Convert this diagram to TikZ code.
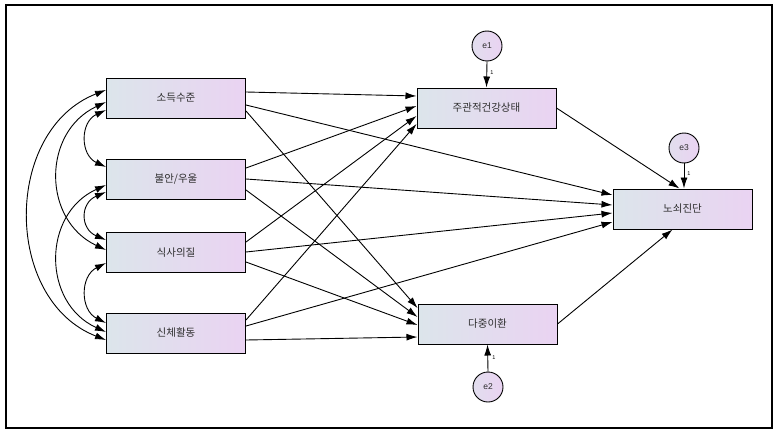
\documentclass[tikz,border=0pt]{standalone}
\usepackage{fontspec}
\setmainfont{Liberation Sans}
\newfontfamily\kr{Noto Sans CJK KR}
\usetikzlibrary{arrows.meta,calc}
\definecolor{boxL}{HTML}{DCE5EB}
\definecolor{boxR}{HTML}{EAD3F2}
\definecolor{txt}{HTML}{2E2E2E}
\begin{document}
\begin{tikzpicture}[x=1pt,y=-1pt,
  varbox/.style={draw=black,line width=1pt,minimum width=139pt,minimum height=40pt,
    left color=boxL,right color=boxR,inner sep=0pt,font=\kr\fontsize{10.5}{12}\selectfont,text=txt},
  errc/.style={draw=black,line width=0.9pt,circle,minimum size=30pt,inner sep=0pt,
    left color=boxL!60!boxR,right color=boxR,font=\fontsize{8.5}{9}\selectfont,text=txt},
  path/.style={line width=0.9pt,-{Latex[length=11pt,width=7pt]}},
  cov/.style={line width=0.9pt,{Latex[length=11pt,width=7pt]}-{Latex[length=11pt,width=7pt]}},
  one/.style={font=\fontsize{5.5}{6}\selectfont,inner sep=0pt}]
\useasboundingbox (0,0) rectangle (784,436);
\fill[white] (0,0) rectangle (784,436);
\draw[line width=2pt] (6,5) rectangle (772,428);
% observed variables
\node[varbox] (b1) at (176,98) {소득수준};
\node[varbox] (b2) at (176,179) {불안/우울};
\node[varbox] (b3) at (176,252.5) {식사의질};
\node[varbox] (b4) at (176,333) {신체활동};
\node[varbox] (m1) at (486.5,108) {주관적건강상태};
\node[varbox] (m2) at (487.5,324) {다중이환};
\node[varbox] (f) at (682.5,209) {노쇠진단};
% errors
\node[errc] (e1) at (487,46) {e1};
\node[errc] (e2) at (488,387) {e2};
\node[errc] (e3) at (684,148) {e3};
% paths to m1
\draw[path] ([yshift=6pt]b1.east) -- ([yshift=12pt]m1.west);
\draw[path] ([yshift=11pt]b2.east) -- ([yshift=2pt]m1.west);
\draw[path] ([yshift=10.5pt]b3.east) -- ([yshift=-8pt]m1.west);
\draw[path] ([yshift=13pt]b4.east) -- ([yshift=-16pt]m1.west);
% paths to f
\draw[path] ([yshift=-7pt]b1.east) -- ([yshift=14pt]f.west);
\draw[path] (b2.east) -- ([yshift=4pt]f.west);
\draw[path] ([yshift=0.5pt]b3.east) -- ([yshift=-4pt]f.west);
\draw[path] ([yshift=7pt]b4.east) -- ([yshift=-13pt]f.west);
% paths to m2
\draw[path] ([yshift=-13pt]b1.east) -- ([yshift=16pt]m2.west);
\draw[path] ([yshift=-11pt]b2.east) -- ([yshift=7pt]m2.west);
\draw[path] ([yshift=-9.5pt]b3.east) -- ([yshift=-1pt]m2.west);
\draw[path] ([yshift=-7pt]b4.east) -- ([yshift=-13pt]m2.west);
% mediators to f
\draw[path] (m1.east) -- ([xshift=-3pt]f.north);
\draw[path] (m2.east) -- ([xshift=-10pt]f.south);
% errors
\draw[path] (e1.south) -- (m1.north);
\draw[path] (e2.north) -- (m2.south);
\draw[path] (e3.south) -- (f.north -| e3.south);
\node[one] (l1) at (492,73) {1};
\node[one] (l2) at (494,358) {1};
\node[one] (l3) at (689,174) {1};
% covariances
\draw[cov] ([yshift=-12pt]b1.west) .. controls (80,122) and (80,155) .. ([yshift=12pt]b2.west);
\draw[cov] ([yshift=-13pt]b2.west) .. controls (80,203) and (80,229) .. ([yshift=12.5pt]b3.west);
\draw[cov] ([yshift=-10.5pt]b3.west) .. controls (80,276) and (80,310) .. ([yshift=10pt]b4.west);
\draw[cov] ([yshift=-4pt]b1.west) .. controls (42,132) and (42,220) .. ([yshift=2.5pt]b3.west);
\draw[cov] ([yshift=-6pt]b2.west) .. controls (42,214) and (42,303) .. ([yshift=1pt]b4.west);
\draw[cov] ([yshift=8pt]b1.west) .. controls (3,130) and (3,300) .. ([yshift=-7pt]b4.west);
\end{tikzpicture}
\end{document}
